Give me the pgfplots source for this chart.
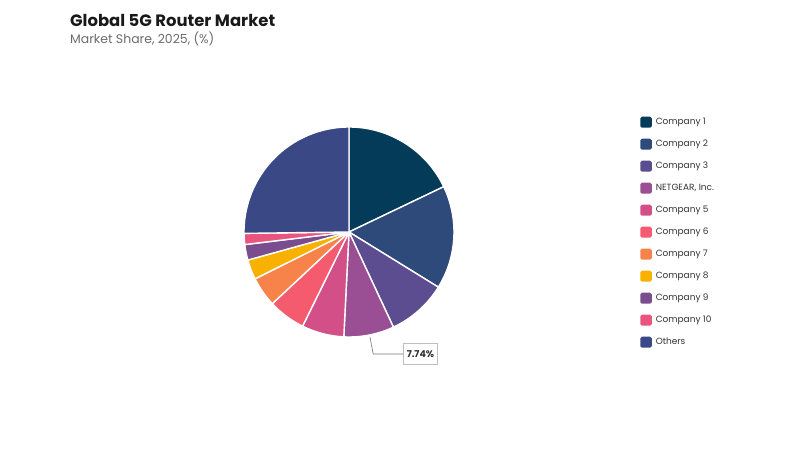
\documentclass[border=0pt]{standalone}
\usepackage{pgfplots}
\pgfplotsset{compat=1.18}
\usepackage{pgfplotstable}
\usepackage{fontspec}
\setmainfont{Poppins}

\definecolor{c1}{HTML}{033B59}
\definecolor{c2}{HTML}{2E4A7A}
\definecolor{c3}{HTML}{5C4D91}
\definecolor{c4}{HTML}{9A4E94}
\definecolor{c5}{HTML}{D24F88}
\definecolor{c6}{HTML}{F45B6E}
\definecolor{c7}{HTML}{F7834A}
\definecolor{c8}{HTML}{F9B100}
\definecolor{c9}{HTML}{7A4E8E}
\definecolor{c10}{HTML}{E9557E}
\definecolor{c11}{HTML}{3A4886}
\definecolor{txt}{HTML}{333333}
\definecolor{subtxt}{HTML}{6B6B6B}

% market share, %, clockwise from 12 o'clock
\pgfplotstableread[col sep=semicolon]{
name;value;color
Company 1;17.9;c1
Company 2;15.9;c2
Company 3;9.25;c3
NETGEAR, Inc.;7.74;c4
Company 5;6.5;c5
Company 6;5.75;c6
Company 7;4.6;c7
Company 8;3.05;c8
Company 9;2.4;c9
Company 10;1.7;c10
Others;25.21;c11
}\piedata

\begin{document}
\begin{tikzpicture}
\path[use as bounding box] (0,0) rectangle (800bp,450bp);
\node[anchor=west, font=\bfseries\fontsize{16.5}{18}\selectfont, text=black!90, inner sep=0pt] at (70bp,430bp) {Global 5G Router Market};
\node[anchor=west, font=\fontsize{12.5}{14}\selectfont, text=subtxt, inner sep=0pt] at (70bp,411.5bp) {Market Share, 2025, (\%)};

\begin{axis}[
    hide axis,
    scale only axis,
    width=210bp, height=210bp,
    xmin=-1, xmax=1, ymin=-1, ymax=1,
    anchor=center,
    at={(349bp,218bp)},
    clip=false,
    legend cell align=left,
    legend style={
        at={(1.886,1.05)}, anchor=north west,
        draw=none, fill=none,
        font=\fontsize{9}{10}\selectfont,
        text=txt,
        row sep=11bp,
        column sep=4bp,
        inner sep=0pt,
        nodes={inner sep=0pt, text height=7bp, text depth=2bp},
    },
    legend image code/.code={
        \fill[#1, rounded corners=1.6pt] (0bp,-5.5bp) rectangle (11.5bp,5.5bp);
    },
]
\pgfplotstablegetrowsof{\piedata}
\pgfmathtruncatemacro\nrows{\pgfplotsretval-1}
\def\cum{0}
\pgfplotsforeachungrouped \i in {0,...,\nrows}{
    \pgfplotstablegetelem{\i}{value}\of\piedata
    \let\v\pgfplotsretval
    \pgfplotstablegetelem{\i}{color}\of\piedata
    \let\c\pgfplotsretval
    \pgfplotstablegetelem{\i}{name}\of\piedata
    \let\n\pgfplotsretval
    \pgfmathsetmacro\aa{90-3.6*\cum}
    \pgfmathsetmacro\ab{90-3.6*(\cum+\v)}
    \edef\tmp{\noexpand\fill[\c, draw=white, line width=1.4pt, line join=round]
        (axis cs:0,0) -- (axis cs:{cos(\aa)},{sin(\aa)})
        arc[start angle=\aa, end angle=\ab, radius=105bp] -- cycle;}
    \tmp
    \edef\tmp{\noexpand\addlegendimage{fill=\c, draw=none}
        \noexpand\addlegendentry{\n}}
    \tmp
    \pgfmathsetmacro\cum{\cum+\v}
}
% callout for NETGEAR
\draw[black!55, line width=0.6pt] (axis cs:0.2,-1.0) -- (axis cs:0.23,-1.162) -- (axis cs:0.514,-1.162);
\node[draw=black!25, fill=white, line width=0.6pt, text=txt,
      font=\bfseries\fontsize{9.5}{11}\selectfont, inner xsep=3.5pt, inner ysep=7pt,
      anchor=west] at (axis cs:0.514,-1.162) {7.74\%};
\end{axis}
\end{tikzpicture}
\end{document}
